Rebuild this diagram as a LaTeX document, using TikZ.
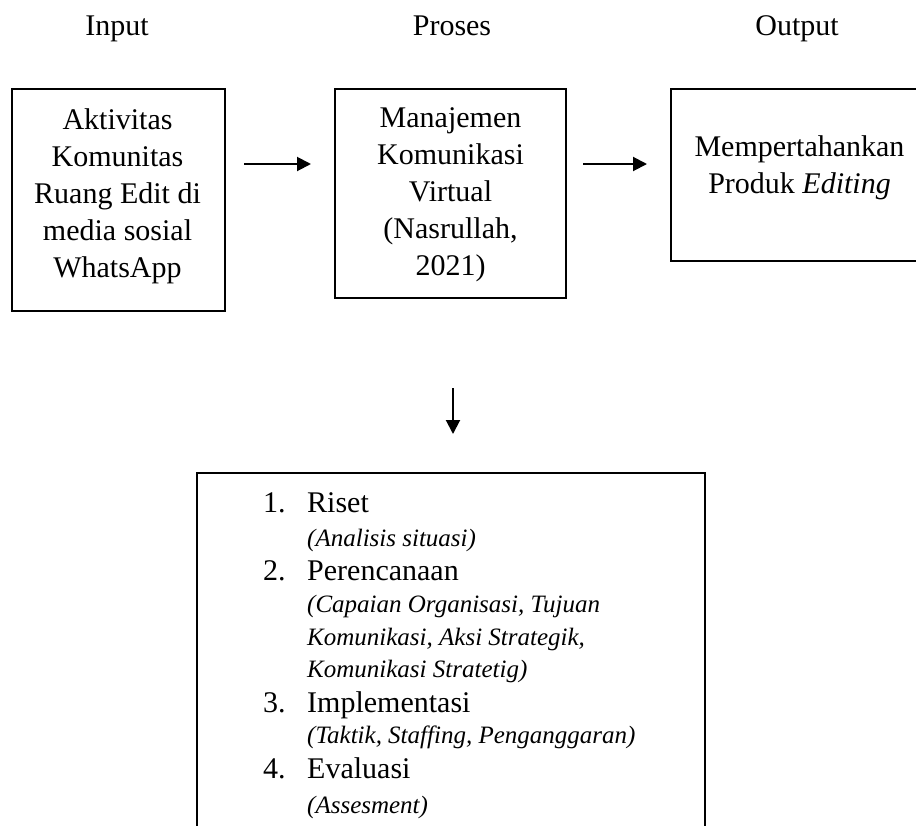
\documentclass[tikz,border=0pt]{standalone}
\usepackage{fontspec}
\setmainfont{Liberation Serif}
\usetikzlibrary{arrows.meta,calc}
\begin{document}
\begin{tikzpicture}[x=1pt,y=-1pt,
  box/.style={draw, line width=2pt, inner sep=0pt},
  big/.style={font=\fontsize{30}{37}\selectfont, inner sep=0pt},
  small/.style={font=\fontsize{25}{31}\selectfont\itshape, inner sep=0pt},
  arr/.style={line width=2pt, -{Triangle[length=14pt,width=14pt]}},
]
\clip (0,0) rectangle (916,825);
\fill[white] (0,0) rectangle (916,825);

% column labels
\node[big, anchor=base] (lin) at (117,35) {Input};
\node[big, anchor=base] (lpr) at (452,35) {Proses};
\node[big, anchor=base] (lout) at (797,35) {Output};

% top boxes
\node[box, minimum width=213pt, minimum height=222pt] (b1) at (118.5,200) {};
\node[big, align=center] (t1) at ($(b1.center)+(-1,-4)$)
  {Aktivitas\\Komunitas\\Ruang Edit di\\media sosial\\WhatsApp};
\node[box, minimum width=231pt, minimum height=209pt] (b2) at (450.5,193.5) {};
\node[big, align=center] (t2) at ($(b2.center)+(0,1.5)$)
  {Manajemen\\Komunikasi\\Virtual\\(Nasrullah,\\2021)};
\node[box, minimum width=257pt, minimum height=172pt] (b3) at (799.5,175) {};
\node[big, align=center] (t3) at ($(b3.center)+(0,-7)$) {Mempertahankan\\Produk \textit{Editing}};

% bottom box
\node[box, minimum width=508pt, minimum height=367pt] (b4) at (451,656.5) {};

% arrows
\draw[arr] ($(b1.north east)+(18,76)$) -- ($(b2.north west)+(-23,76)$);
\draw[arr] ($(b2.north east)+(16,76)$) -- ($(b3.north west)+(-23,76)$);
\draw[arr] ($(b2.south)+(2.5,89)$) -- ($(b4.north)+(2,-38)$);

% list
\node[big, anchor=base west] (n1) at (263,512) {1.};
\node[big, anchor=base west] (i1) at (307,512) {Riset};
\node[small, anchor=base west] (s1) at (307,546) {(Analisis situasi)};
\node[big, anchor=base west] (n2) at (263,580) {2.};
\node[big, anchor=base west] (i2) at (307,580) {Perencanaan};
\node[small, anchor=base west] (s2a) at (307,612) {(Capaian Organisasi, Tujuan};
\node[small, anchor=base west] (s2b) at (307,645) {Komunikasi, Aksi Strategik,};
\node[small, anchor=base west] (s2c) at (307,677) {Komunikasi Stratetig)};
\node[big, anchor=base west] (n3) at (263,712) {3.};
\node[big, anchor=base west] (i3) at (307,712) {Implementasi};
\node[small, anchor=base west] (s3) at (307,743) {(Taktik, Staffing, Penganggaran)};
\node[big, anchor=base west] (n4) at (263,778) {4.};
\node[big, anchor=base west] (i4) at (307,778) {Evaluasi};
\node[small, anchor=base west] (s4) at (307,813) {(Assesment)};
\end{tikzpicture}
\end{document}
